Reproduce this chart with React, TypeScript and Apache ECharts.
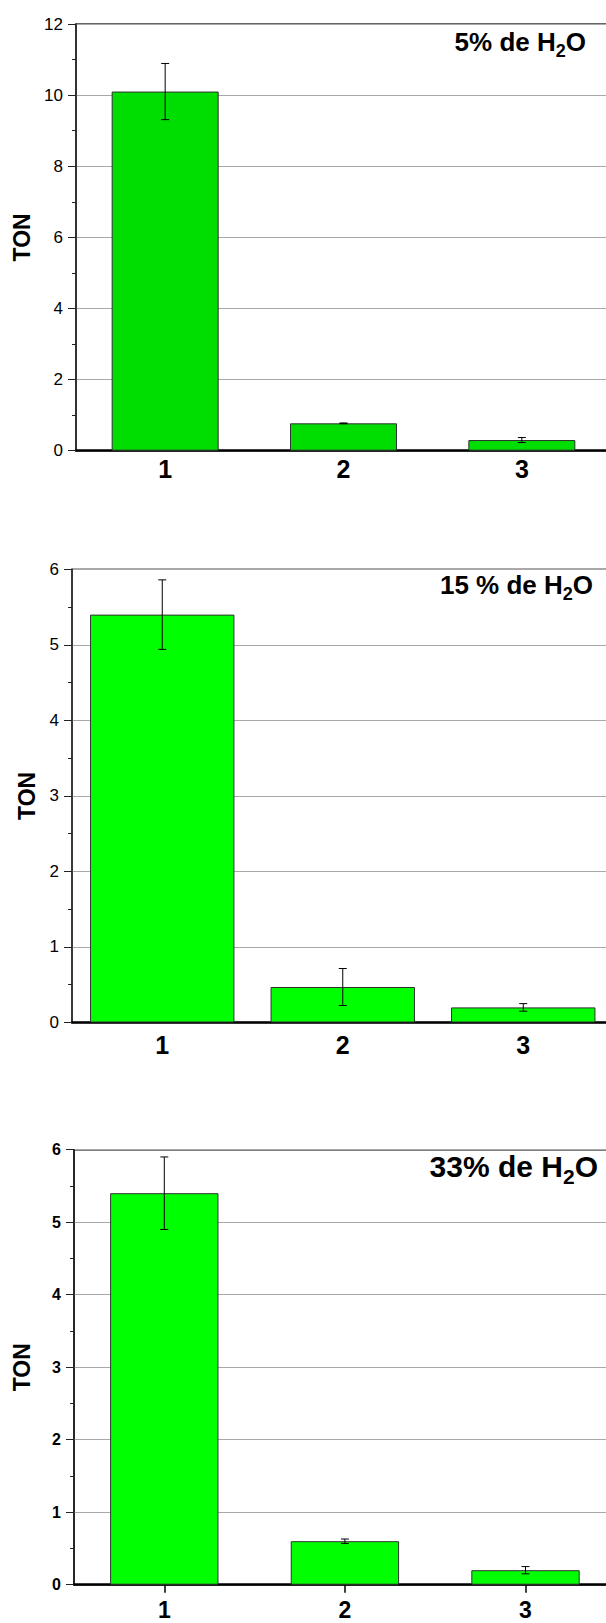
import React, { useEffect, useRef } from "react";
import * as echarts from "echarts";

const categories = ["1", "2", "3"];

const ton5 = [10.1, 0.77, 0.3];
const err5 = [0.79, 0.01, 0.07];

const ton15 = [5.4, 0.47, 0.2];
const err15 = [0.46, 0.245, 0.05];

const ton33 = [5.4, 0.6, 0.2];
const err33 = [0.5, 0.03, 0.05];

const yMax = [12, 6, 6];
const yInterval = [2, 1, 1];

const titleMain = ["5% de H", "15 % de H", "33% de H"];
const titleSub = ["2", "2", "2"];
const titleEnd = ["O", "O", "O"];

const axisName = "TON";

const FONT = "'Liberation Sans', Arial, Helvetica, sans-serif";

export default function App() {
  const ref = useRef<HTMLDivElement>(null);

  useEffect(() => {
    if (!ref.current) return;
    const chart = echarts.init(ref.current, undefined, { renderer: "svg" });

    const panels = [
      {
        values: ton5, errs: err5,
        grid: { left: 76, top: 24, width: 535, height: 426.7 },
        barColor: "#00DD00", barWidth: "60%",
        labelSize: 17, labelBold: false, nameGap: 43,
        xLabelSize: 25, xLabelMargin: 6, xTicks: false,
        title: { x: 586, y: 29, size: 26, sub: 18, pad: 18 },
        borderColor: "#333",
      },
      {
        values: ton15, errs: err15,
        grid: { left: 72, top: 569.3, width: 541.5, height: 453.2 },
        barColor: "#00FF00", barWidth: "80%",
        labelSize: 17, labelBold: false, nameGap: 34,
        xLabelSize: 25, xLabelMargin: 10, xTicks: false,
        title: { x: 593, y: 572, size: 26, sub: 18, pad: 18 },
        borderColor: "#555",
      },
      {
        values: ton33, errs: err33,
        grid: { left: 74, top: 1149.7, width: 541.8, height: 435 },
        barColor: "#00FF00", barWidth: "60%",
        labelSize: 16, labelBold: true, nameGap: 41,
        xLabelSize: 23, xLabelMargin: 14, xTicks: true,
        title: { x: 598, y: 1151, size: 30, sub: 21, pad: 20 },
        borderColor: "#000",
      },
    ];

    const grids: any[] = [];
    const xAxes: any[] = [];
    const yAxes: any[] = [];
    const series: any[] = [];
    const graphics: any[] = [];

    panels.forEach((p, i) => {
      grids.push({
        ...p.grid,
        show: true,
        borderColor: p.borderColor,
        borderWidth: 1.5,
        backgroundColor: "transparent",
        containLabel: false,
        outerBoundsMode: "none",
      });
      xAxes.push({
        type: "category",
        gridIndex: i,
        data: categories,
        boundaryGap: true,
        axisLine: { show: true, lineStyle: { color: "#000", width: 2.5 } },
        axisTick: {
          show: p.xTicks,
          alignWithLabel: true,
          length: 8,
          lineStyle: { color: "#000", width: 1.5 },
        },
        axisLabel: {
          fontSize: p.xLabelSize,
          fontWeight: "bold",
          color: "#000",
          fontFamily: FONT,
          margin: p.xLabelMargin,
        },
        splitLine: { show: false },
      });
      yAxes.push({
        type: "value",
        gridIndex: i,
        min: 0,
        max: yMax[i],
        interval: yInterval[i],
        name: axisName,
        nameLocation: "middle",
        nameGap: p.nameGap,
        nameTextStyle: {
          fontSize: 23,
          fontWeight: "bold",
          color: "#000",
          fontFamily: FONT,
        },
        axisLine: { show: true, lineStyle: { color: "#222", width: 1.5 } },
        axisTick: { show: true, length: 8, lineStyle: { color: "#222", width: 1 } },
        minorTick: { show: true, splitNumber: 2, length: 4, lineStyle: { color: "#222", width: 1 } },
        axisLabel: {
          fontSize: p.labelSize,
          fontWeight: p.labelBold ? "bold" : "normal",
          color: "#000",
          fontFamily: FONT,
          margin: 13,
        },
        splitLine: { show: true, lineStyle: { color: "#A8A8A8", width: 1 } },
        minorSplitLine: { show: false },
      });
      series.push({
        type: "bar",
        xAxisIndex: i,
        yAxisIndex: i,
        data: p.values,
        barWidth: p.barWidth,
        itemStyle: { color: p.barColor, borderColor: "#303030", borderWidth: 1 },
        z: 2,
      });
      series.push({
        type: "custom",
        xAxisIndex: i,
        yAxisIndex: i,
        z: 5,
        data: p.values.map((v, k) => [k, v, p.errs[k]]),
        encode: { x: 0, y: 1 },
        renderItem: (params: any, api: any) => {
          const x = api.value(0);
          const v = api.value(1);
          const e = api.value(2);
          const top = api.coord([x, v + e]);
          const bot = api.coord([x, v - e]);
          const hw = 4;
          const st = { stroke: "#000", lineWidth: 1 };
          return {
            type: "group",
            children: [
              { type: "line", shape: { x1: top[0], y1: top[1], x2: bot[0], y2: bot[1] }, style: st },
              { type: "line", shape: { x1: top[0] - hw, y1: top[1], x2: top[0] + hw, y2: top[1] }, style: st },
              { type: "line", shape: { x1: bot[0] - hw, y1: bot[1], x2: bot[0] + hw, y2: bot[1] }, style: st },
            ],
          };
        },
      });
      const t = p.title;
      graphics.push({
        type: "text",
        x: t.x,
        y: t.y,
        z: 10,
        style: {
          text: `{a|${titleMain[i]}}{s|${titleSub[i]}}{a|${titleEnd[i]}}`,
          align: "right",
          verticalAlign: "top",
          rich: {
            a: {
              fontSize: t.size,
              fontWeight: "bold",
              fontFamily: FONT,
              fill: "#000",
              lineHeight: t.size,
            },
            s: {
              fontSize: t.sub,
              fontWeight: "bold",
              fontFamily: FONT,
              fill: "#000",
              lineHeight: t.sub,
              padding: [t.pad, 0, 0, 0],
            },
          },
        },
      });
    });

    chart.setOption({
      animation: false,
      backgroundColor: "#fff",
      grid: grids,
      xAxis: xAxes,
      yAxis: yAxes,
      series,
      graphic: graphics,
    });

    return () => chart.dispose();
  }, []);

  return (
    <div
      ref={ref}
      style={{ position: "absolute", left: 0, top: 0, width: 606, height: 1623 }}
    />
  );
}
